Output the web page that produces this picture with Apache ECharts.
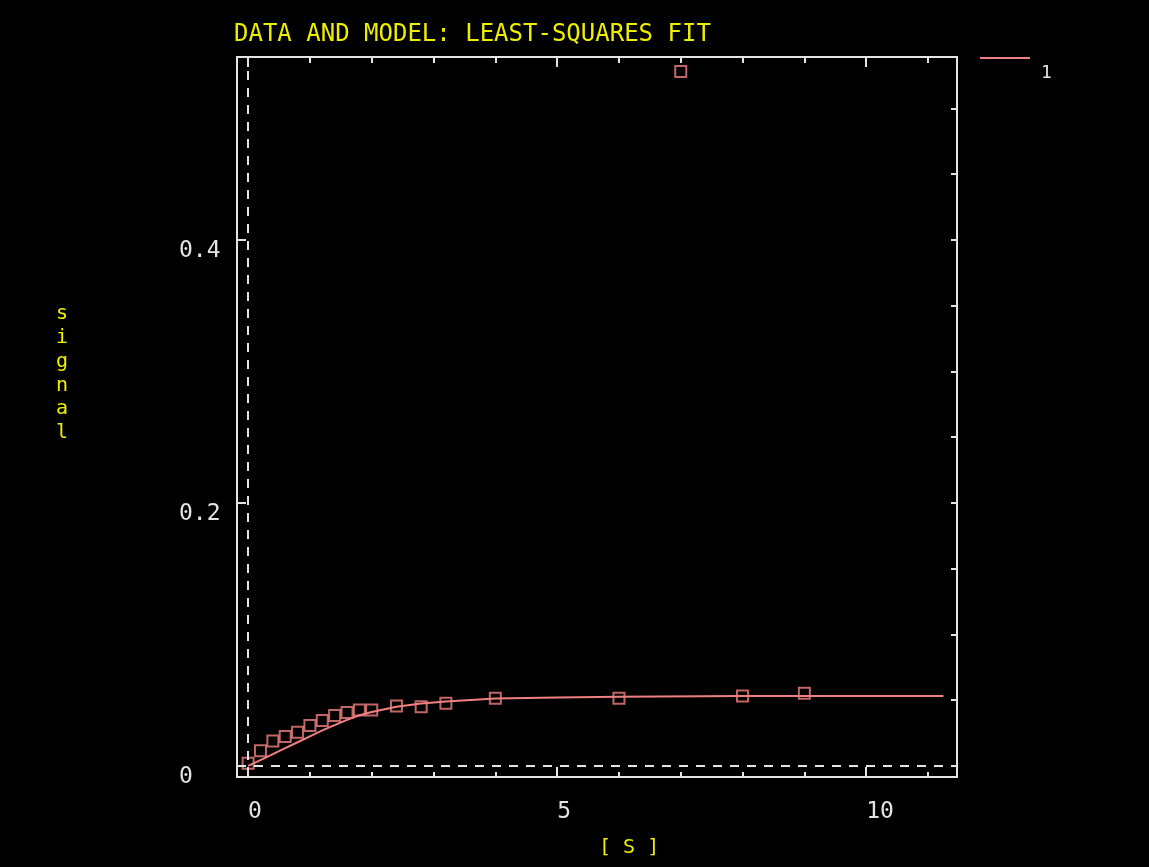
<!DOCTYPE html>
<html>
<head>
<meta charset="utf-8">
<script src="https://cdn.jsdelivr.net/npm/echarts@6/dist/echarts.min.js"></script>
<style>
html,body{margin:0;padding:0;background:#000;}
#chart{width:1149px;height:867px;}
</style>
</head>
<body>
<div id="chart"></div>
<script>
// Data
const dataT = [0, 0.2, 0.4, 0.6, 0.8, 1.0, 1.2, 1.4, 1.6, 1.8, 2.0, 2.4, 2.8, 3.2, 4, 6, 7, 8, 9];
const dataSignal = [0.002, 0.0116, 0.019, 0.0223, 0.0256, 0.0307, 0.0345, 0.0383, 0.0406, 0.0426, 0.0426, 0.0456, 0.0451, 0.0477, 0.0515, 0.0515, 0.528, 0.0532, 0.0553];
const modelT = [0, 0.2, 0.4, 0.6, 0.8, 1.0, 1.2, 1.4, 1.6, 1.8, 2.0, 2.4, 2.8, 3.2, 4, 5, 6, 8, 11.25];
const modelSignal = [0, 0.0045, 0.009, 0.0135, 0.018, 0.0225, 0.027, 0.031, 0.035, 0.0385, 0.041, 0.045, 0.0475, 0.049, 0.0513, 0.052, 0.0527, 0.0531, 0.0532];
const xMajorTicks = [0, 5, 10];
const xMinorTicks = [1, 2, 3, 4, 6, 7, 8, 9, 11];
const yMajorTicks = [0, 0.2, 0.4];
const yRightTicks = [0, 0.05, 0.1, 0.15, 0.2, 0.25, 0.3, 0.35, 0.4, 0.45, 0.5];
const titleText = 'DATA AND MODEL: LEAST-SQUARES FIT';
const xName = '[ S ]';
const yName = 'signal';
const seriesName = '1';

const X_MIN = -0.18, X_MAX = 11.47, Y_MIN = -0.0084, Y_MAX = 0.539;
const AX = '#e4e4e4';
const YEL = '#eeee00';
const PINK = '#f08080';
const MONO = 'DejaVu Sans Mono';
const gridBox = {left: 237, right: 192, top: 57, bottom: 90, containLabel: false};

function xAx(grid, pos, ticks, len, labels) {
  return {
    type: 'value', gridIndex: grid, position: pos, min: X_MIN, max: X_MAX,
    axisLine: {show: true, onZero: false, lineStyle: {color: AX, width: 2}},
    axisTick: {show: true, inside: true, length: len, customValues: ticks, lineStyle: {color: AX, width: 2}},
    axisLabel: labels ? {show: true, customValues: ticks, align: 'left', margin: 24, color: AX, fontFamily: MONO, fontSize: 23} : {show: false},
    splitLine: {show: false}
  };
}
function yAx(grid, pos, ticks, len, labels, show) {
  return {
    type: 'value', gridIndex: grid, position: pos, min: Y_MIN, max: Y_MAX, show: show,
    axisLine: {show: true, onZero: false, lineStyle: {color: AX, width: 2}},
    axisTick: {show: true, inside: true, length: len, customValues: ticks, lineStyle: {color: AX, width: 2}},
    axisLabel: labels ? {show: true, customValues: ticks, align: 'left', verticalAlign: 'top', margin: 58, color: AX, fontFamily: MONO, fontSize: 23} : {show: false},
    splitLine: {show: false}
  };
}

const chart = echarts.init(document.getElementById('chart'), null, {renderer: 'canvas'});
chart.setOption({
  backgroundColor: '#000',
  animation: false,
  title: {
    text: titleText, left: 229, top: 18,
    textStyle: {color: YEL, fontFamily: MONO, fontSize: 24, fontWeight: 'normal'}
  },
  legend: {
    data: [seriesName], left: 975, top: 29, icon: 'rect', itemWidth: 50, itemHeight: 2,
    formatter: function (name) { return '\n\n' + name; },
    textStyle: {color: AX, fontFamily: MONO, fontSize: 18, lineHeight: 15, padding: [0, 0, 0, 6]}
  },
  grid: [Object.assign({}, gridBox), Object.assign({}, gridBox)],
  xAxis: [
    xAx(0, 'bottom', xMajorTicks, 10, true),
    xAx(0, 'top', xMajorTicks, 10, false),
    xAx(1, 'bottom', xMinorTicks, 5, false),
    xAx(1, 'top', xMinorTicks, 6, false)
  ],
  yAxis: [
    yAx(0, 'left', yMajorTicks, 9, true, true),
    yAx(0, 'right', yRightTicks, 6, false, true),
    yAx(1, 'left', [], 0, false, false)
  ],
  graphic: [
    {type: 'text', left: 56, top: 302, style: {text: yName.split('').join('\n'), fill: YEL, font: '20px "DejaVu Sans Mono"', lineHeight: 23.8, align: 'center'}},
    {type: 'text', left: 599, top: 838, style: {text: xName, fill: YEL, font: '20px "DejaVu Sans Mono"'}}
  ],
  series: [
    {
      name: seriesName, type: 'line', xAxisIndex: 0, yAxisIndex: 0,
      data: modelT.map((t, i) => [t, modelSignal[i]]),
      showSymbol: false, symbol: 'none',
      lineStyle: {color: PINK, width: 2}, itemStyle: {color: PINK},
      markLine: {
        silent: true, symbol: 'none', label: {show: false},
        lineStyle: {color: AX, width: 2, type: [9, 8]},
        data: [{xAxis: 0}, {yAxis: 0}]
      },
      z: 3
    },
    {
      name: 'data', type: 'scatter', xAxisIndex: 0, yAxisIndex: 0,
      data: dataT.map((t, i) => [t, dataSignal[i]]),
      symbol: 'rect', symbolSize: 11,
      itemStyle: {color: 'rgba(0,0,0,0)', borderColor: PINK, borderWidth: 2},
      z: 4
    }
  ]
});
</script>
</body>
</html>
